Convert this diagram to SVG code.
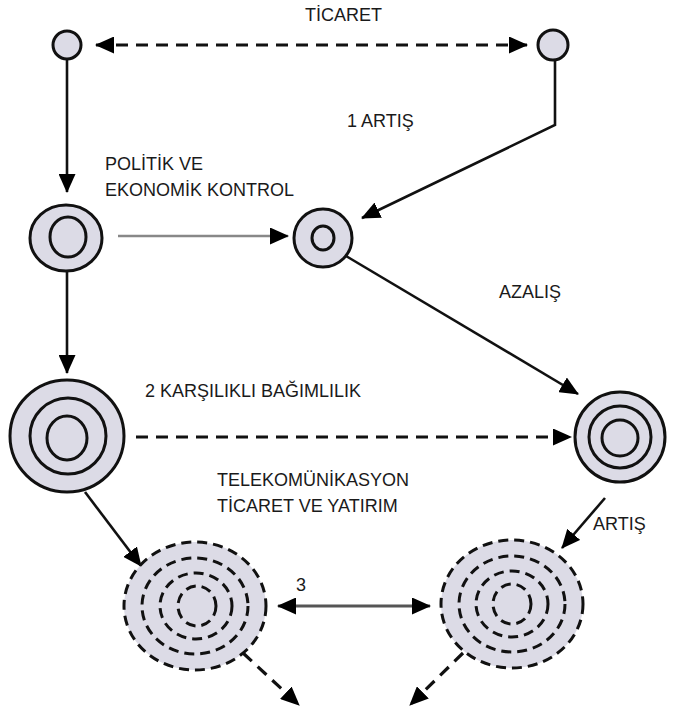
<svg xmlns="http://www.w3.org/2000/svg" width="680" height="713" viewBox="0 0 680 713">
<style>
.lbl{font-family:"Liberation Sans",Arial,sans-serif;font-size:18px;fill:#1a1a1a}
.node{fill:#dcdbe6;stroke:#111;stroke-width:3}
.ring{fill:none;stroke:#111;stroke-width:3}
.dring{fill:none;stroke:#111;stroke-width:3;stroke-dasharray:10 6}
.dfill{fill:#dcdbe6;stroke:#111;stroke-width:3;stroke-dasharray:10 6}
.c{fill:none;stroke:#111;stroke-width:2.6}
.d{fill:none;stroke:#111;stroke-width:3.2;stroke-dasharray:12 8}
</style>
<defs>
<marker id="ah" markerUnits="userSpaceOnUse" markerWidth="19" markerHeight="17" refX="18" refY="8.5" orient="auto-start-reverse">
<path d="M0,0 L19,8.5 L0,17 Z" fill="#000"/>
</marker>
</defs>
<rect width="680" height="713" fill="#fff"/>
<g id="connectors">
<line class="d" x1="96" y1="45" x2="527" y2="45" marker-start="url(#ah)" marker-end="url(#ah)"/>
<line class="c" x1="67" y1="60" x2="67" y2="192" marker-end="url(#ah)"/>
<polyline class="c" points="555,61 555,125 362,218" marker-end="url(#ah)"/>
<line x1="118" y1="236" x2="288" y2="236" stroke="#888" stroke-width="2.5" marker-end="url(#ah)"/>
<line class="c" x1="346" y1="256" x2="578" y2="394" marker-end="url(#ah)"/>
<line class="c" x1="67" y1="272" x2="67" y2="373" marker-end="url(#ah)"/>
<line class="d" x1="136" y1="437" x2="571" y2="437" marker-end="url(#ah)"/>
<line class="c" x1="85" y1="492" x2="141" y2="566" marker-end="url(#ah)"/>
<line class="c" x1="605" y1="498" x2="562" y2="548" marker-end="url(#ah)"/>
<line x1="278" y1="606" x2="430" y2="606" stroke="#555" stroke-width="3" marker-start="url(#ah)" marker-end="url(#ah)"/>
<line class="d" x1="243" y1="653" x2="299" y2="705" marker-end="url(#ah)"/>
<line class="d" x1="463" y1="653" x2="410" y2="705" marker-end="url(#ah)"/>
</g>
<g id="n1"><circle class="node" cx="67" cy="45" r="14"/></g>
<g id="n2"><circle class="node" cx="553" cy="45" r="15"/></g>
<g id="n3"><ellipse class="node" cx="66" cy="238" rx="36" ry="33"/><ellipse class="ring" cx="68" cy="237" rx="18" ry="20"/></g>
<g id="n4"><circle class="node" cx="323" cy="238" r="29"/><ellipse class="ring" cx="323" cy="238" rx="11" ry="12"/></g>
<g id="n5"><ellipse class="node" cx="67" cy="436" rx="57" ry="56"/><circle class="ring" cx="68" cy="436" r="38"/><ellipse class="ring" cx="67" cy="438" rx="20" ry="22"/></g>
<g id="n6"><circle class="node" cx="620" cy="437" r="45"/><circle class="ring" cx="620" cy="437" r="31"/><circle class="ring" cx="620" cy="438" r="18"/></g>
<g id="n7"><ellipse class="dfill" cx="195" cy="606" rx="71" ry="64"/><ellipse class="dring" cx="195" cy="606" rx="53" ry="48"/><ellipse class="dring" cx="196" cy="606" rx="36" ry="33"/><ellipse class="dring" cx="197" cy="606" rx="19" ry="20"/></g>
<g id="n8"><ellipse class="dfill" cx="512" cy="604" rx="71" ry="64"/><ellipse class="dring" cx="512" cy="604" rx="53" ry="48"/><ellipse class="dring" cx="512" cy="604" rx="36" ry="33"/><ellipse class="dring" cx="512" cy="604" rx="19" ry="20"/></g>
<g id="labels">
<text class="lbl" x="305" y="21">TİCARET</text>
<text class="lbl" x="347" y="127">1 ARTIŞ</text>
<text class="lbl" x="105" y="170">POLİTİK VE</text>
<text class="lbl" x="105" y="196">EKONOMİK KONTROL</text>
<text class="lbl" x="499" y="298">AZALIŞ</text>
<text class="lbl" x="145" y="397">2 KARŞILIKLI BAĞIMLILIK</text>
<text class="lbl" x="217" y="486">TELEKOMÜNİKASYON</text>
<text class="lbl" x="217" y="512">TİCARET VE YATIRIM</text>
<text class="lbl" x="593" y="530">ARTIŞ</text>
<text class="lbl" x="296" y="591">3</text>
</g>
</svg>
